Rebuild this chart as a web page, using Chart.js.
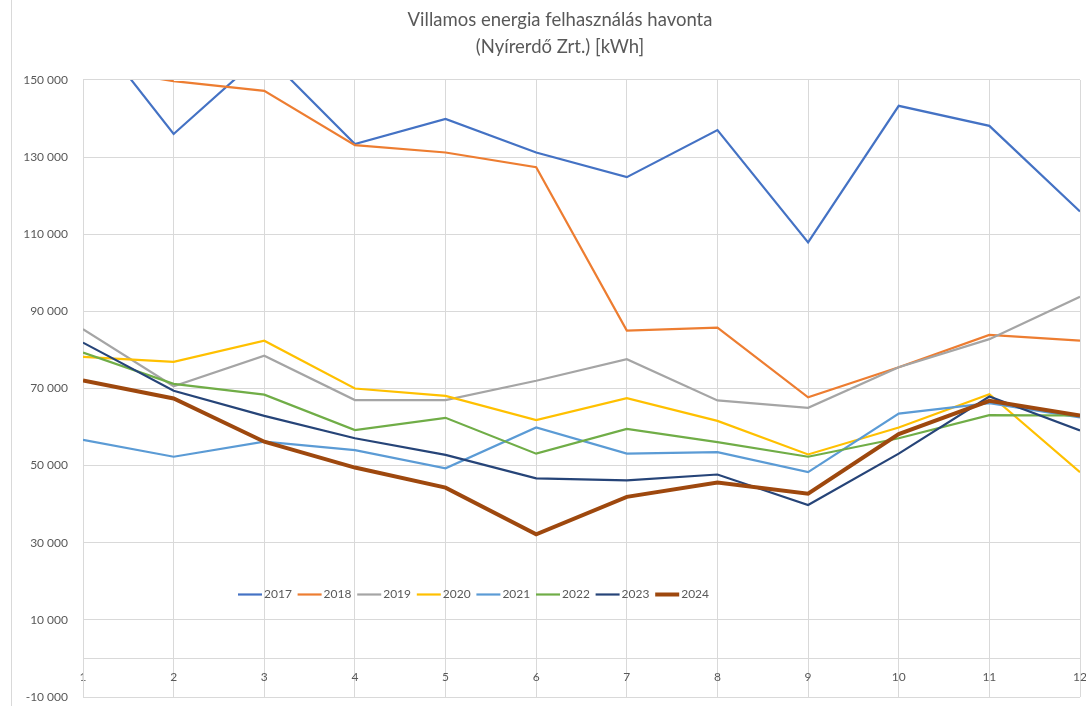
<!DOCTYPE html>
<html>
<head>
<meta charset="utf-8">
<script src="https://cdn.jsdelivr.net/npm/chart.js@4"></script>
<style>
  html, body { margin: 0; padding: 0; background: #fff; }
  #wrap { width: 1086px; height: 706px; position: relative; }
</style>
</head>
<body>
<div id="wrap"><canvas id="chart"></canvas></div>
<script>
const months = ['1', '2', '3', '4', '5', '6', '7', '8', '9', '10', '11', '12'];
const years = ['2017', '2018', '2019', '2020', '2021', '2022', '2023', '2024'];

const y2017 = [166000, 136000, 157000, 133400, 139900, 131200, 124800, 137000, 107900, 143300, 138100, 115900];
const y2018 = [153500, 149700, 147200, 133100, 131200, 127400, 85000, 85800, 67700, 75500, 83900, 82400];
const y2019 = [85400, 70600, 78500, 67000, 67000, 72000, 77600, 66900, 65000, 75500, 82800, 93800];
const y2020 = [78200, 76900, 82400, 70000, 68100, 61800, 67500, 61600, 52900, 59900, 68500, 48300];
const y2021 = [56700, 52300, 56200, 54000, 49300, 59900, 53100, 53500, 48300, 63500, 66200, 62500];
const y2022 = [79300, 71200, 68400, 59200, 62400, 53100, 59500, 56100, 52300, 57100, 63100, 63000];
const y2023 = [81900, 69400, 62900, 57100, 52800, 46700, 46200, 47700, 39800, 53100, 67900, 59100];
const y2024 = [72100, 67400, 56200, 49500, 44300, 32200, 41900, 45600, 42700, 58200, 66800, 63000];

const series = [y2017, y2018, y2019, y2020, y2021, y2022, y2023, y2024];
const colors = ['#4472C4', '#ED7D31', '#A5A5A5', '#FFC000', '#5B9BD5', '#70AD47', '#264478', '#9E480E'];
const widths = [2.2, 2.2, 2.2, 2.2, 2.2, 2.2, 2.2, 4];

const textColor = '#595959';
const gridColor = '#D9D9D9';
const fontFamily = 'Lato, "Noto Sans", sans-serif';

function spaced(v) {
  return String(v).replace(/\B(?=(\d{3})+(?!\d))/g, ' ');
}

// Excel puts the legend inside the plot, so draw it by hand
const insideLegend = {
  id: 'insideLegend',
  afterDraw(chart) {
    const ctx = chart.ctx;
    const y = 594.5;
    ctx.save();
    ctx.font = '12px ' + fontFamily;
    ctx.textBaseline = 'middle';
    ctx.textAlign = 'left';
    chart.data.datasets.forEach((ds, i) => {
      const x = 238 + i * 59.6;
      ctx.strokeStyle = ds.borderColor;
      ctx.lineWidth = ds.borderWidth;
      ctx.beginPath();
      ctx.moveTo(x, y);
      ctx.lineTo(x + 24, y);
      ctx.stroke();
      ctx.fillStyle = textColor;
      ctx.fillText(ds.label, x + 26, y);
    });
    ctx.restore();
  }
};

const frameLine = {
  id: 'frameLine',
  afterLayout(chart) {
    // the title in the original sits a bit right of the canvas centre
    if (chart.titleBlock) {
      chart.titleBlock.left += 20;
      chart.titleBlock.right += 20;
    }
  },
  beforeDraw(chart) {
    const ctx = chart.ctx;
    ctx.save();
    ctx.strokeStyle = gridColor;
    ctx.lineWidth = 1;
    ctx.beginPath();
    ctx.moveTo(11.5, 0);
    ctx.lineTo(11.5, chart.height);
    ctx.stroke();
    ctx.restore();
  }
};

new Chart(document.getElementById('chart'), {
  type: 'line',
  data: {
    labels: months,
    datasets: series.map((data, i) => ({
      label: years[i],
      data: data,
      borderColor: colors[i],
      backgroundColor: colors[i],
      borderWidth: widths[i],
      pointRadius: 0,
      tension: 0,
      clip: 0,
      order: series.length - i
    }))
  },
  options: {
    responsive: true,
    maintainAspectRatio: false,
    animation: false,
    layout: { padding: { left: 0, right: 6, top: 0, bottom: 9 } },
    plugins: {
      legend: { display: false },
      tooltip: { enabled: false },
      title: {
        display: true,
        text: ['Villamos energia felhasználás havonta', '(Nyírerdő Zrt.) [kWh]'],
        color: textColor,
        font: { family: fontFamily, size: 18.5, weight: 'normal', lineHeight: 1.47 },
        padding: { top: 6, bottom: 19.6 }
      }
    },
    scales: {
      x: {
        type: 'category',
        position: { y: 0 },
        offset: false,
        grid: { color: gridColor, drawTicks: false },
        border: { color: gridColor },
        afterFit: (scale) => {
          scale.height = 0;
          scale.paddingLeft = 0;
          scale.paddingRight = 0;
        },
        ticks: {
          color: textColor,
          font: { family: fontFamily, size: 12 },
          padding: 11,
          maxRotation: 0,
          autoSkip: false
        }
      },
      y: {
        min: -10000,
        max: 150000,
        grid: { color: gridColor, drawTicks: false },
        border: { color: gridColor },
        afterFit: (scale) => {
          scale.width = 83;
          scale.paddingTop = 0;
          scale.paddingBottom = 0;
        },
        ticks: {
          stepSize: 20000,
          color: textColor,
          font: { family: fontFamily, size: 12 },
          padding: 15,
          callback: (v) => spaced(v)
        }
      }
    }
  },
  plugins: [insideLegend, frameLine]
});
</script>
</body>
</html>
